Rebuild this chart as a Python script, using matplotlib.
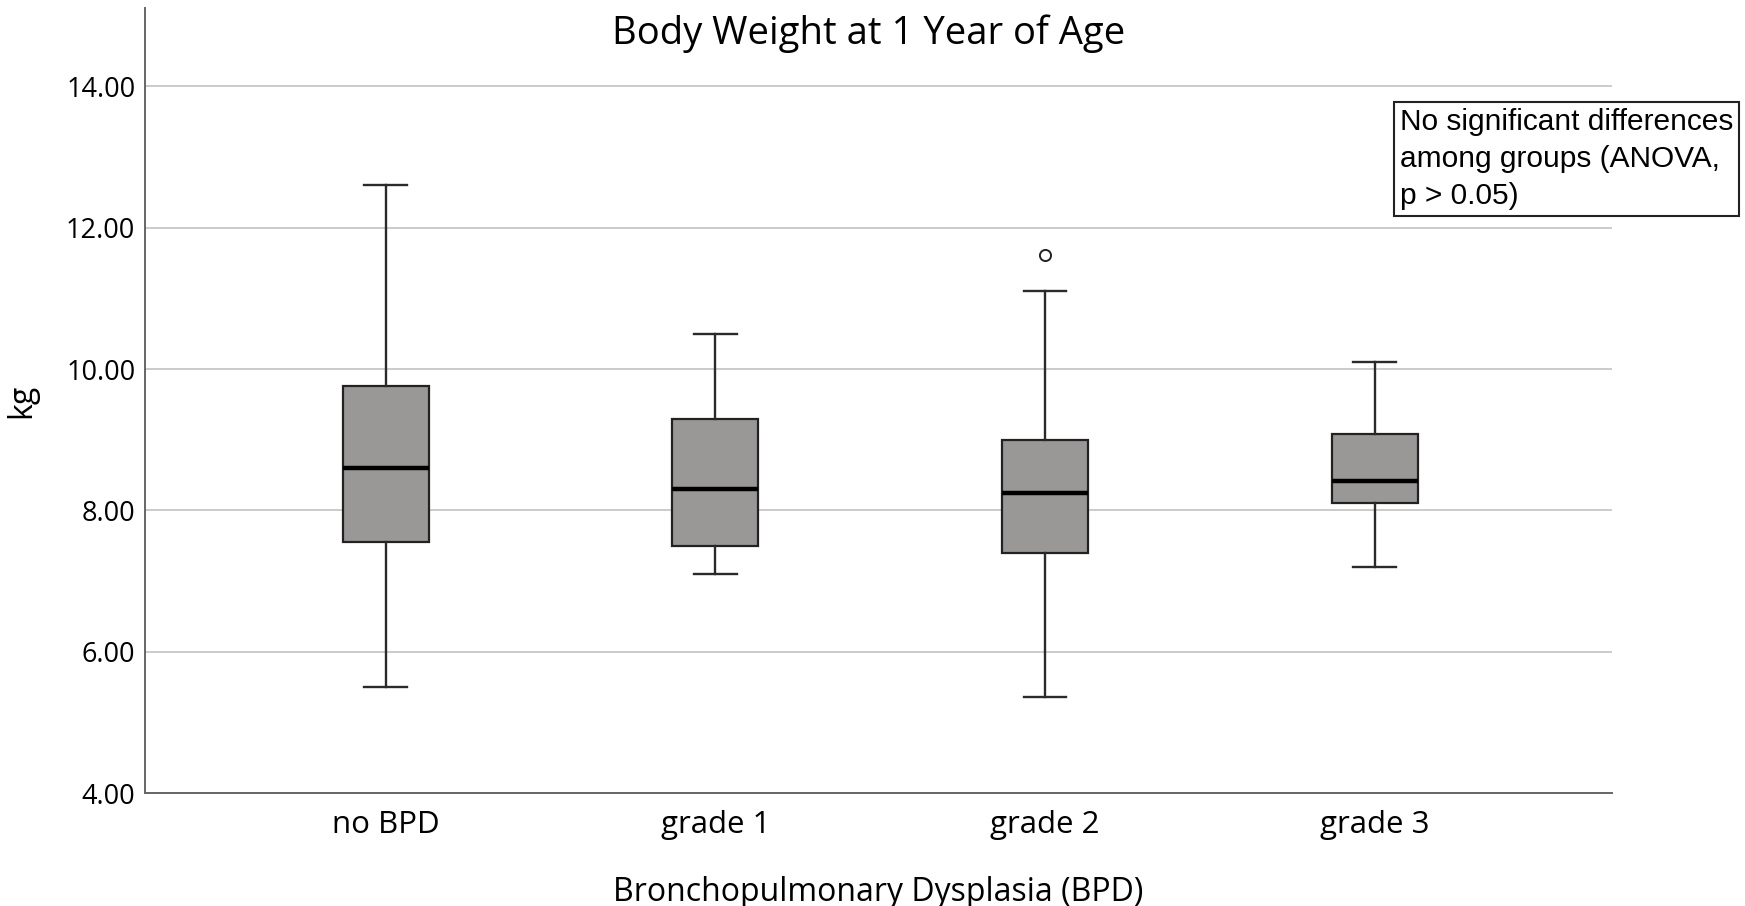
import matplotlib.pyplot as plt

# group stats (kg)
groups = ['no BPD', 'grade 1', 'grade 2', 'grade 3']
whislo = [5.50, 7.10, 5.36, 7.20]
q1 = [7.55, 7.50, 7.40, 8.10]
med = [8.60, 8.30, 8.25, 8.41]
q3 = [9.76, 9.30, 9.00, 9.08]
whishi = [12.60, 10.50, 11.10, 10.10]
outliers = [[], [], [11.61], []]
yticks = [4, 6, 8, 10, 12, 14]

stats = []
for i in range(len(groups)):
    stats.append(dict(label=groups[i], whislo=whislo[i], q1=q1[i], med=med[i],
                      q3=q3[i], whishi=whishi[i], fliers=outliers[i]))

plt.rcParams['font.family'] = ['Open Sans', 'DejaVu Sans']

fig = plt.figure(figsize=(17.45, 9.06), dpi=100)
ax = fig.add_axes([0.0831, 0.1247, 0.8407, 0.8665])

ax.bxp(stats, positions=[1, 2, 3, 4], widths=0.26, patch_artist=True,
       boxprops=dict(facecolor='#9a9797', edgecolor='#222222', linewidth=1.6),
       medianprops=dict(color='black', linewidth=3.2),
       whiskerprops=dict(color='#2a2a2a', linewidth=1.7),
       capprops=dict(color='#2a2a2a', linewidth=1.7),
       flierprops=dict(marker='o', markersize=8, markerfacecolor='white',
                       markeredgecolor='#222222', markeredgewidth=1.4),
       zorder=3)

ax.set_xlim(0.27, 4.72)
ax.set_ylim(4, 15.11)
ax.set_yticks(yticks)
ax.set_yticklabels(['%.2f' % v for v in yticks], fontsize=19.5)
ax.tick_params(axis='y', length=0, pad=7)
ax.tick_params(axis='x', length=0, pad=12, labelsize=22.5)
ax.grid(axis='y', color='#c2c2c2', linewidth=1.2, zorder=0)
ax.set_axisbelow(True)

for s in ['top', 'right']:
    ax.spines[s].set_visible(False)
for s in ['left', 'bottom']:
    ax.spines[s].set_color('#666666')
    ax.spines[s].set_linewidth(1.4)

ax.set_xlabel('Bronchopulmonary Dysplasia (BPD)', fontsize=23, labelpad=26)
ax.set_ylabel('kg', fontsize=23, labelpad=20)

fig.text(0.4975, 1 - 44 / 906, 'Body Weight at 1 Year of Age', fontsize=27.5,
         ha='center', va='baseline')

fig.text(1400 / 1745, 1 - 108 / 906,
         'No significant differences\namong groups (ANOVA,\np > 0.05)',
         family=['Liberation Sans', 'DejaVu Sans'], fontsize=21.5, ha='left', va='top',
         linespacing=1.42,
         bbox=dict(boxstyle='square,pad=0.2', facecolor='white',
                   edgecolor='#222222', linewidth=1.5))

plt.savefig('out.png', dpi=100)
